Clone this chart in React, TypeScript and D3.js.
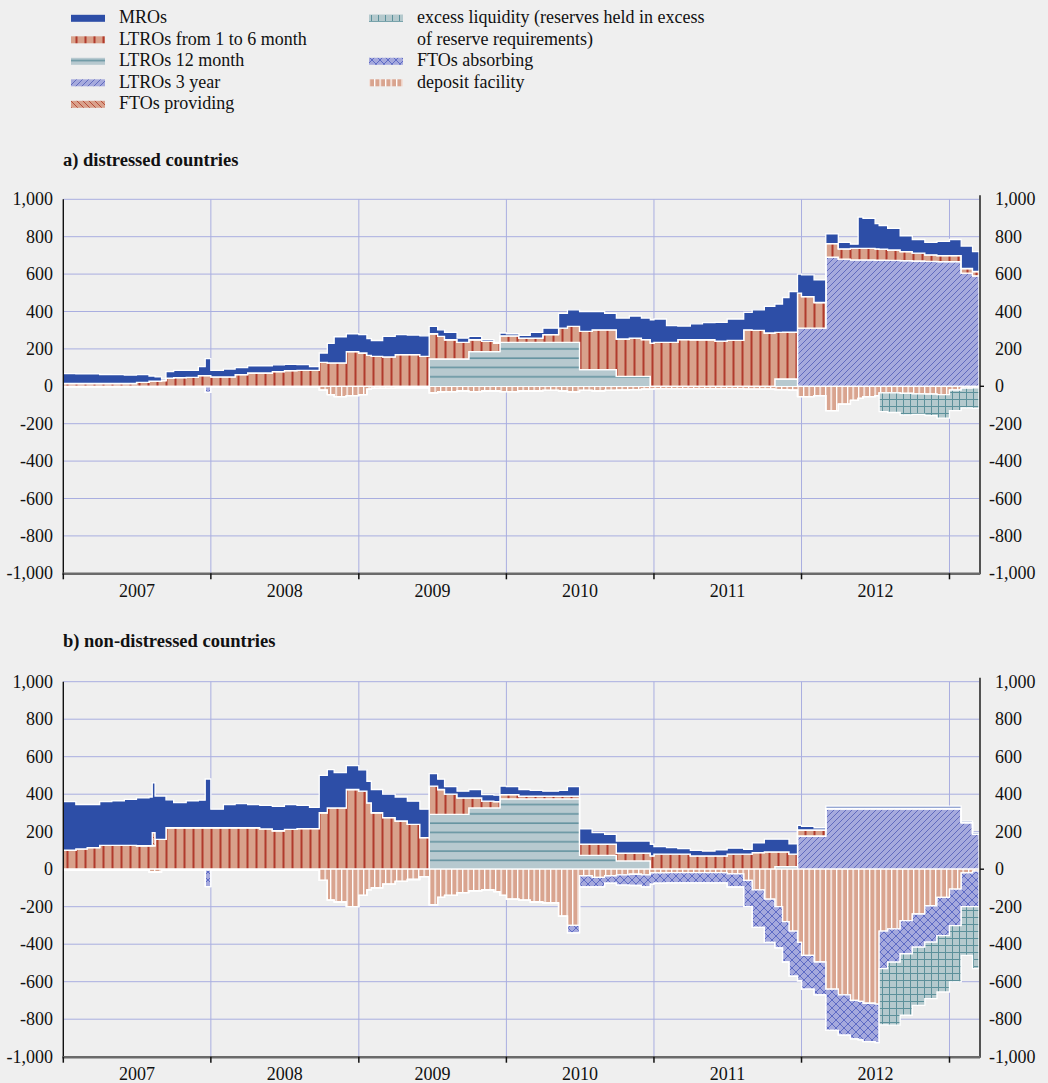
import { useEffect, useRef } from 'react';
import * as d3 from 'd3';

const W = 1048;
const H = 1083;

// step dates (each value holds until the next date)
const dates = [
    '2007-01-01', '2007-02-01', '2007-03-01', '2007-04-01', '2007-05-01', '2007-06-01', '2007-07-01', '2007-08-01',
    '2007-08-09', '2007-08-16', '2007-09-01', '2007-09-12', '2007-10-01', '2007-11-01', '2007-12-01', '2007-12-18',
    '2008-01-01', '2008-02-01', '2008-03-01', '2008-04-01', '2008-05-01', '2008-06-01', '2008-07-01', '2008-08-01',
    '2008-09-01', '2008-09-25', '2008-10-15', '2008-11-01', '2008-12-01',
    '2009-01-01', '2009-01-21', '2009-02-01', '2009-03-01', '2009-04-01', '2009-05-01', '2009-06-01', '2009-06-24',
    '2009-07-15', '2009-08-01', '2009-09-01', '2009-09-30', '2009-11-01', '2009-12-01', '2009-12-16',
    '2010-01-01', '2010-02-01', '2010-03-01', '2010-04-01', '2010-05-10', '2010-06-01', '2010-07-01', '2010-08-01',
    '2010-09-01', '2010-09-30', '2010-11-01', '2010-12-01', '2010-12-23',
    '2011-01-01', '2011-02-01', '2011-03-01', '2011-04-01', '2011-05-01', '2011-06-01', '2011-07-01', '2011-08-11',
    '2011-09-01', '2011-10-01', '2011-10-27', '2011-11-15', '2011-12-01', '2011-12-22',
    '2012-01-01', '2012-02-01', '2012-03-01', '2012-04-01', '2012-05-01', '2012-05-20', '2012-06-01', '2012-07-01',
    '2012-07-11', '2012-08-01', '2012-09-01', '2012-10-01', '2012-11-01', '2012-12-01',
    '2013-01-01', '2013-01-30', '2013-02-27', '2013-03-15',
];

// ---- a) distressed countries (EUR bn) ----
const aMRO = [
    53, 51, 51, 48, 47, 45, 41, 27, 27, 22, 8, 35, 39, 37, 48, 91,
    35, 42, 38, 39, 39, 37, 33, 31, 20, 50, 105, 140, 96,
    98, 90, 85, 110, 107, 105, 110, 39, 35, 39, 23, 18, 10, 4, 15,
    11, 14, 30, 35, 79, 89, 106, 98, 88, 112, 118, 115, 125,
    125, 90, 72, 85, 91, 100, 114, 93, 110, 142, 152, 185, 217, 102,
    116, 121, 52, 35, 22, 167, 160, 135, 127, 116, 85, 73, 67, 76,
    86, 120, 106, 106,
];
const aLTRO = [
    15, 15, 15, 15, 15, 15, 21, 28, 28, 28, 30, 43, 46, 48, 57, 57,
    50, 50, 62, 71, 71, 78, 84, 85, 85, 128, 125, 125, 185,
    178, 165, 160, 157, 169, 169, 160, 135, 121, 103, 89, 64, 55, 46, 35,
    35, 23, 23, 41, 76, 85, 205, 213, 213, 200, 205, 197, 231,
    235, 235, 250, 249, 249, 242, 246, 302, 299, 285, 249, 251, 251, 187,
    169, 137, 73, 55, 62, 62, 62, 61, 59, 56, 48, 42, 35, 32,
    32, 25, 23, 23,
];
const aLTRO12 = [
    0, 0, 0, 0, 0, 0, 0, 0, 0, 0, 0, 0, 0, 0, 0, 0,
    0, 0, 0, 0, 0, 0, 0, 0, 0, 0, 0, 0, 0,
    0, 0, 0, 0, 0, 0, 0, 146, 146, 146, 146, 185, 185, 185, 235,
    235, 235, 235, 235, 235, 235, 89, 89, 89, 53, 53, 53, 0,
    0, 0, 0, 0, 0, 0, 0, 0, 0, 0, 39, 39, 39, 0,
    0, 0, 0, 0, 0, 0, 0, 0, 0, 0, 0, 0, 0, 0,
    0, 0, 0, 0,
];
const aLTRO3y = [
    0, 0, 0, 0, 0, 0, 0, 0, 0, 0, 0, 0, 0, 0, 0, 0,
    0, 0, 0, 0, 0, 0, 0, 0, 0, 0, 0, 0, 0,
    0, 0, 0, 0, 0, 0, 0, 0, 0, 0, 0, 0, 0, 0, 0,
    0, 0, 0, 0, 0, 0, 0, 0, 0, 0, 0, 0, 0,
    0, 0, 0, 0, 0, 0, 0, 0, 0, 0, 0, 0, 0, 311,
    311, 311, 690, 680, 676, 676, 676, 674, 674, 673, 672, 670, 668, 667,
    667, 605, 591, 591,
];
const aFTOp = [
    0, 0, 0, 0, 0, 0, 0, 0, 0, 0, 0, 0, 0, 0, 0, 0,
    0, 0, 0, 0, 0, 0, 0, 0, 0, 0, 0, 0, 0,
    0, 0, 0, 0, 0, 0, 0, 0, 0, 0, 0, 0, 0, 0, 0,
    0, 0, 0, 0, 0, 0, 0, 0, 0, 0, 0, 0, 0,
    0, 0, 0, 0, 0, 0, 0, 0, 0, 0, 0, 0, 0, 0,
    0, 0, 0, 0, 0, 0, 0, 0, 0, 0, 0, 0, 0, 0,
    0, 0, 0, 0,
];
// absorbing side, given as magnitudes (drawn below zero)
const aDeposit = [
    3, 3, 3, 3, 3, 3, 3, 3, 3, 3, 3, 3, 3, 3, 3, 3,
    3, 3, 3, 3, 3, 3, 3, 3, 3, 20, 45, 55, 50,
    45, 15, 10, 10, 8, 8, 8, 35, 30, 28, 25, 28, 25, 25, 28,
    28, 25, 25, 22, 25, 30, 22, 25, 22, 20, 18, 15, 15,
    12, 12, 12, 12, 12, 12, 12, 15, 15, 15, 18, 18, 20, 55,
    55, 50, 130, 95, 75, 65, 55, 50, 35, 35, 38, 40, 42, 45,
    20, 10, 8, 8,
];
const aFTOa = [
    0, 0, 0, 0, 0, 0, 0, 0, 0, 0, 0, 0, 0, 0, 0, 30,
    0, 0, 0, 0, 0, 0, 0, 0, 0, 0, 0, 0, 0,
    0, 0, 0, 0, 0, 0, 0, 0, 0, 0, 0, 0, 0, 0, 0,
    0, 0, 0, 0, 0, 0, 0, 0, 0, 0, 0, 0, 0,
    0, 0, 0, 0, 0, 0, 0, 0, 0, 0, 0, 0, 0, 0,
    0, 0, 0, 0, 0, 0, 0, 0, 0, 0, 0, 0, 0, 0,
    0, 0, 0, 0,
];
const aExcess = [
    0, 0, 0, 0, 0, 0, 0, 0, 0, 0, 0, 0, 0, 0, 0, 0,
    0, 0, 0, 0, 0, 0, 0, 0, 0, 0, 0, 0, 0,
    0, 0, 0, 0, 0, 0, 0, 0, 0, 0, 0, 0, 0, 0, 0,
    0, 0, 0, 0, 0, 0, 0, 0, 0, 0, 0, 0, 0,
    0, 0, 0, 0, 0, 0, 0, 0, 0, 0, 0, 0, 0, 0,
    0, 0, 0, 0, 0, 0, 0, 0, 100, 105, 115, 110, 115, 125,
    110, 105, 110, 110,
];

// ---- b) non-distressed countries (EUR bn) ----
const bMRO = [
    259, 237, 230, 233, 238, 245, 255, 260, 265, 231, 231, 149, 134, 144, 147, 260,
    99, 124, 129, 124, 125, 130, 133, 124, 114, 199, 204, 188, 127,
    114, 115, 124, 125, 128, 124, 152, 67, 55, 40, 36, 45, 35, 35, 45,
    42, 36, 31, 27, 31, 51, 82, 62, 53, 65, 65, 65, 62,
    40, 35, 30, 29, 26, 32, 32, 26, 52, 68, 68, 68, 55, 25,
    19, 12, 10, 10, 10, 10, 10, 10, 10, 10, 10, 10, 10, 10,
    10, 8, 8, 8,
];
const bLTRO = [
    101, 108, 115, 127, 127, 127, 125, 125, 125, 159, 159, 221, 221, 221, 221, 221,
    221, 221, 221, 221, 215, 205, 212, 216, 216, 301, 327, 327, 425,
    416, 354, 301, 275, 257, 239, 168, 151, 133, 108, 88, 53, 36, 33, 23,
    23, 14, 14, 14, 14, 14, 59, 59, 59, 41, 41, 41, 71,
    80, 80, 80, 71, 71, 71, 80, 80, 88, 92, 78, 78, 66, 32,
    32, 32, 4, 4, 4, 4, 4, 4, 4, 4, 4, 4, 4, 4,
    4, 0, 0, 0,
];
const bLTRO12 = [
    0, 0, 0, 0, 0, 0, 0, 0, 0, 0, 0, 0, 0, 0, 0, 0,
    0, 0, 0, 0, 0, 0, 0, 0, 0, 0, 0, 0, 0,
    0, 0, 0, 0, 0, 0, 0, 292, 292, 292, 292, 327, 327, 327, 375,
    375, 375, 375, 375, 375, 375, 74, 74, 74, 44, 44, 44, 0,
    0, 0, 0, 0, 0, 0, 0, 0, 0, 0, 14, 14, 14, 0,
    0, 0, 0, 0, 0, 0, 0, 0, 0, 0, 0, 0, 0, 0,
    0, 0, 0, 0,
];
const bLTRO3y = [
    0, 0, 0, 0, 0, 0, 0, 0, 0, 0, 0, 0, 0, 0, 0, 0,
    0, 0, 0, 0, 0, 0, 0, 0, 0, 0, 0, 0, 0,
    0, 0, 0, 0, 0, 0, 0, 0, 0, 0, 0, 0, 0, 0, 0,
    0, 0, 0, 0, 0, 0, 0, 0, 0, 0, 0, 0, 0,
    0, 0, 0, 0, 0, 0, 0, 0, 0, 0, 0, 0, 0, 177,
    177, 177, 322, 322, 322, 322, 322, 322, 322, 322, 322, 322, 322, 322,
    322, 248, 186, 186,
];
const bFTOp = [
    0, 0, 0, 0, 0, 0, 0, 0, 70, 0, 0, 0, 0, 0, 0, 0,
    0, 0, 0, 0, 0, 0, 0, 0, 0, 0, 0, 0, 0,
    0, 0, 0, 0, 0, 0, 0, 0, 0, 0, 0, 0, 0, 0, 0,
    0, 0, 0, 0, 0, 0, 0, 0, 0, 0, 0, 0, 0,
    0, 0, 0, 0, 0, 0, 0, 0, 0, 0, 0, 0, 0, 0,
    0, 0, 0, 0, 0, 0, 0, 0, 0, 0, 0, 0, 0, 0,
    0, 0, 0, 0,
];
const bDeposit = [
    5, 5, 5, 5, 5, 5, 5, 15, 15, 15, 5, 5, 5, 5, 5, 5,
    5, 5, 5, 5, 5, 5, 5, 5, 5, 60, 165, 175, 200,
    140, 110, 100, 80, 65, 55, 40, 190, 150, 140, 125, 115, 110, 120, 140,
    160, 165, 175, 180, 250, 300, 35, 44, 35, 30, 27, 30, 20,
    20, 18, 18, 18, 18, 18, 25, 60, 110, 160, 200, 280, 330, 390,
    460, 495, 640, 670, 700, 705, 715, 720, 330, 318, 274, 239, 195, 150,
    106, 20, 10, 10,
];
const bFTOa = [
    0, 0, 0, 0, 0, 0, 0, 0, 0, 0, 0, 0, 0, 0, 0, 88,
    0, 0, 0, 0, 0, 0, 0, 0, 0, 0, 0, 0, 0,
    0, 0, 0, 0, 0, 0, 0, 0, 0, 0, 0, 0, 0, 0, 0,
    0, 0, 0, 0, 0, 40, 60, 50, 40, 55, 60, 65, 60,
    55, 55, 55, 55, 55, 55, 70, 140, 200, 230, 220, 215, 240, 205,
    180, 175, 220, 215, 205, 205, 205, 205, 200, 178, 177, 177, 194, 204,
    195, 180, 190, 190,
];
const bExcess = [
    0, 0, 0, 0, 0, 0, 0, 0, 0, 0, 0, 0, 0, 0, 0, 0,
    0, 0, 0, 0, 0, 0, 0, 0, 0, 0, 0, 0, 0,
    0, 0, 0, 0, 0, 0, 0, 0, 0, 0, 0, 0, 0, 0, 0,
    0, 0, 0, 0, 0, 0, 0, 0, 0, 0, 0, 0, 0,
    0, 0, 0, 0, 0, 0, 0, 0, 0, 0, 0, 0, 0, 0,
    0, 0, 0, 0, 0, 0, 0, 0, 300, 336, 328, 310, 301, 301,
    300, 260, 330, 330,
];

const POS_KEYS = ['ltro3y', 'ltro12', 'ltro', 'ftop', 'mro'];
const NEG_KEYS = ['dep', 'ftoa', 'exc'];

const FILLS: Record<string, string> = {
    mro: '#2d4ea7',
    ltro: 'url(#p-ltro)',
    ltro12: 'url(#p-l12)',
    ltro3y: 'url(#p-l3y)',
    ftop: 'url(#p-ftop)',
    exc: 'url(#p-exc)',
    ftoa: 'url(#p-ftoa)',
    dep: 'url(#p-dep)',
};

const LEGEND_LEFT: [string, string[]][] = [
    ['mro', ['MROs']],
    ['ltro', ['LTROs from 1 to 6 month']],
    ['ltro12', ['LTROs 12 month']],
    ['ltro3y', ['LTROs 3 year']],
    ['ftop', ['FTOs providing']],
];
const LEGEND_RIGHT: [string, string[]][] = [
    ['exc', ['excess liquidity (reserves held in excess', 'of reserve requirements)']],
    ['ftoa', ['FTOs absorbing']],
    ['dep', ['deposit facility']],
];

const Y_TICKS = [-1000, -800, -600, -400, -200, 0, 200, 400, 600, 800, 1000];
const YEARS = [2007, 2008, 2009, 2010, 2011, 2012];

const PANELS = [
    {
        title: 'a) distressed countries', titleY: 165.5, top: 199.3, bottom: 573.3,
        s: { mro: aMRO, ltro: aLTRO, ltro12: aLTRO12, ltro3y: aLTRO3y, ftop: aFTOp, dep: aDeposit, ftoa: aFTOa, exc: aExcess },
    },
    {
        title: 'b) non-distressed countries', titleY: 646.5, top: 681.7, bottom: 1056.7,
        s: { mro: bMRO, ltro: bLTRO, ltro12: bLTRO12, ltro3y: bLTRO3y, ftop: bFTOp, dep: bDeposit, ftoa: bFTOa, exc: bExcess },
    },
];

const FONT = "'Liberation Serif', 'Times New Roman', serif";
const GRID = '#a9aee0';

export default function App() {
    const svgRef = useRef<SVGSVGElement>(null);

    useEffect(() => {
        if (!svgRef.current) return;
        const svg = d3.select(svgRef.current);
        svg.selectAll('*').remove();

        const defs = svg.append('defs');
        const pattern = (id: string, w: number, h: number, bg: string) => {
            const p = defs.append('pattern').attr('id', id)
                .attr('patternUnits', 'userSpaceOnUse').attr('width', w).attr('height', h);
            p.append('rect').attr('width', w).attr('height', h).attr('fill', bg);
            return p;
        };
        pattern('p-ltro', 9, 9, '#d8a18b')
            .append('rect').attr('x', 3.5).attr('width', 2).attr('height', 9).attr('fill', '#b13a2c');
        pattern('p-l12', 8, 9.3, '#b7c9cf')
            .append('rect').attr('y', 4).attr('width', 8).attr('height', 1.6).attr('fill', '#6795a1');
        pattern('p-l3y', 6, 6, '#a6aadd')
            .append('path').attr('d', 'M-1,1 L1,-1 M0,6 L6,0 M5,7 L7,5')
            .attr('stroke', '#4f5bb6').attr('stroke-width', 0.8);
        pattern('p-ftop', 6, 6, '#d9a18c')
            .append('path').attr('d', 'M-1,5 L1,7 M0,0 L6,6 M5,-1 L7,1')
            .attr('stroke', '#b3432f').attr('stroke-width', 0.9);
        pattern('p-exc', 7, 7, '#b4c9cd')
            .append('path').attr('d', 'M0.5,0 V7 M0,0.5 H7')
            .attr('stroke', '#5c909a').attr('stroke-width', 1);
        pattern('p-ftoa', 8, 8, '#a5a9dd')
            .append('path').attr('d', 'M0,0 L8,8 M8,0 L0,8')
            .attr('stroke', '#5664c2').attr('stroke-width', 0.9);
        pattern('p-dep', 5.5, 10, '#d9a48f')
            .append('rect').attr('width', 1.3).attr('height', 10).attr('fill', '#ffffff');

        svg.append('rect').attr('width', W).attr('height', H).attr('fill', '#efefef');

        // Legend
        const legend = (items: [string, string[]][], sx: number, tx: number) => {
            let row = 0;
            for (const [key, lines] of items) {
                const base = 23.3 + row * 21.5;
                svg.append('rect').attr('x', sx).attr('y', base - 8.5).attr('width', 34).attr('height', 7)
                    .attr('fill', FILLS[key]);
                lines.forEach((t, k) => {
                    svg.append('text').attr('x', tx).attr('y', base + k * 21.5)
                        .style('font-family', FONT).style('font-size', '18px').attr('fill', '#111')
                        .text(t);
                });
                row += lines.length;
            }
        };
        legend(LEGEND_LEFT, 71, 119);
        legend(LEGEND_RIGHT, 369, 417);

        const parse = d3.utcParse('%Y-%m-%d');
        const x = d3.scaleUtc()
            .domain([parse('2007-01-01') as Date, parse('2013-03-15') as Date])
            .range([63.3, 979]);
        const fmt = d3.formatLocale({
            decimal: '.', thousands: ',', grouping: [3], currency: ['', ''], minus: '-',
        }).format(',');
        const left = x.range()[0];
        const right = x.range()[1];

        for (const panel of PANELS) {
            const y = d3.scaleLinear().domain([-1000, 1000]).range([panel.bottom, panel.top]);
            const g = svg.append('g');

            g.append('text').attr('x', 63).attr('y', panel.titleY)
                .style('font-family', FONT).style('font-size', '18.5px').style('font-weight', 'bold')
                .attr('fill', '#111').text(panel.title);

            // grid
            for (const v of Y_TICKS.filter(v => v > -1000)) {
                g.append('line').attr('x1', left).attr('x2', right).attr('y1', y(v)).attr('y2', y(v))
                    .attr('stroke', GRID).attr('stroke-width', 1);
            }
            for (let yr = 2008; yr <= 2013; yr++) {
                const xx = x(parse(`${yr}-01-01`) as Date);
                g.append('line').attr('x1', xx).attr('x2', xx).attr('y1', panel.top).attr('y2', panel.bottom)
                    .attr('stroke', GRID).attr('stroke-width', 1);
            }
            g.append('line').attr('x1', left).attr('x2', right).attr('y1', y(0)).attr('y2', y(0))
                .attr('stroke', '#555').attr('stroke-width', 1);

            const s = panel.s;
            const rows = dates.map((d, i) => ({
                date: parse(d) as Date,
                ltro3y: s.ltro3y[i], ltro12: s.ltro12[i], ltro: s.ltro[i], ftop: s.ftop[i], mro: s.mro[i],
                dep: -s.dep[i], ftoa: -s.ftoa[i], exc: -s.exc[i],
            }));

            const area = d3.area<any>()
                .x(d => x(d.data.date))
                .y0(d => y(d[0]))
                .y1(d => y(d[1]))
                .curve(d3.curveStepAfter);

            const pos = d3.stack<any>().keys(POS_KEYS).offset(d3.stackOffsetNone)(rows);
            const neg = d3.stack<any>().keys(NEG_KEYS).offset(d3.stackOffsetNone)(rows);
            for (const series of [...pos, ...neg]) {
                g.append('path').datum(series).attr('d', area)
                    .attr('fill', FILLS[series.key])
                    .attr('stroke', '#ffffff').attr('stroke-width', 1.3)
                    .attr('stroke-linejoin', 'miter');
            }

            // axes
            g.append('line').attr('x1', left).attr('x2', left).attr('y1', panel.top).attr('y2', panel.bottom)
                .attr('stroke', '#111').attr('stroke-width', 1.4);
            g.append('line').attr('x1', right + 1).attr('x2', right + 1).attr('y1', panel.top - 4).attr('y2', panel.bottom + 1)
                .attr('stroke', '#111').attr('stroke-width', 1.4);
            g.append('line').attr('x1', right + 1).attr('x2', right + 5).attr('y1', y(0)).attr('y2', y(0))
                .attr('stroke', '#111').attr('stroke-width', 1.4);
            g.append('line').attr('x1', left - 1).attr('x2', right + 1).attr('y1', panel.bottom + 0.5).attr('y2', panel.bottom + 0.5)
                .attr('stroke', '#6a6a6a').attr('stroke-width', 2.5);
            for (let yr = 2007; yr <= 2013; yr++) {
                const xx = x(parse(`${yr}-01-01`) as Date);
                g.append('line').attr('x1', xx).attr('x2', xx).attr('y1', panel.bottom).attr('y2', panel.bottom + 6)
                    .attr('stroke', '#111').attr('stroke-width', 1.5);
            }

            for (const v of Y_TICKS) {
                g.append('text').attr('x', 53).attr('y', y(v) + 6).attr('text-anchor', 'end')
                    .style('font-family', FONT).style('font-size', '18px').attr('fill', '#111')
                    .text(fmt(v));
                g.append('text').attr('x', v < 0 ? 989 : 995).attr('y', y(v) + 6)
                    .style('font-family', FONT).style('font-size', '18px').attr('fill', '#111')
                    .text(fmt(v));
            }
            for (const yr of YEARS) {
                const mid = x(parse(`${yr}-07-02`) as Date);
                g.append('text').attr('x', mid).attr('y', panel.bottom + 23.5).attr('text-anchor', 'middle')
                    .style('font-family', FONT).style('font-size', '18px').attr('fill', '#111')
                    .text(String(yr));
            }
        }
    }, []);

    return (
        <div style={{ position: 'absolute', left: 0, top: 0 }}>
            <svg ref={svgRef} width={W} height={H} style={{ display: 'block' }} />
        </div>
    );
}
